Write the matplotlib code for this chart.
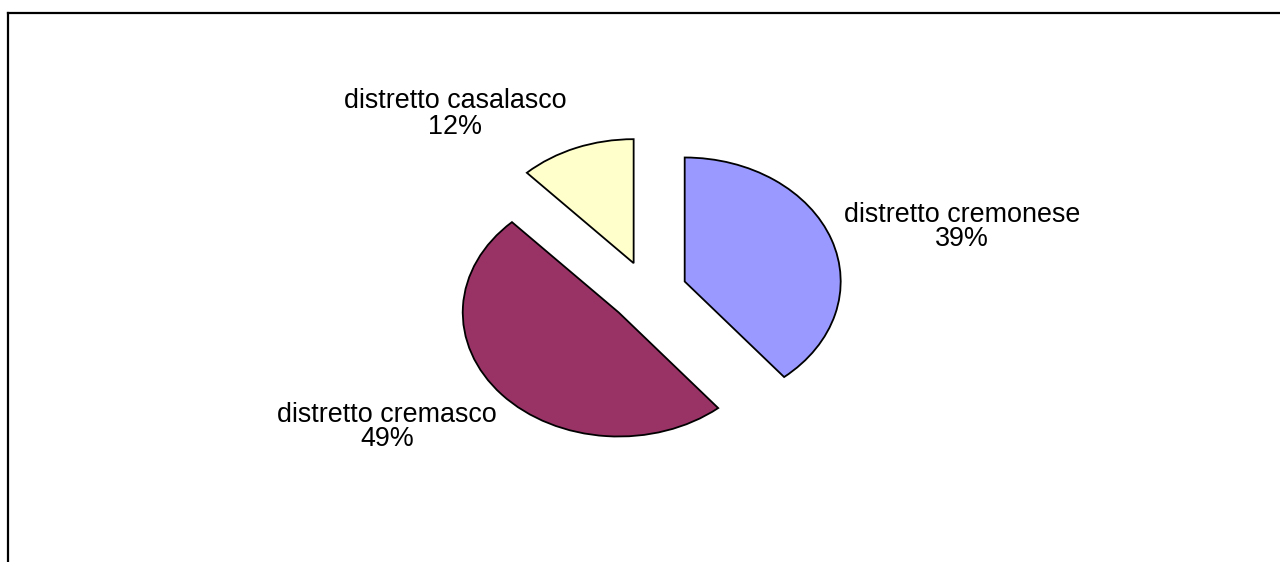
import numpy as np
import matplotlib.pyplot as plt
from matplotlib.lines import Line2D

# data
labels = ['distretto cremonese', 'distretto cremasco', 'distretto casalasco']
shares = [39, 49, 12]
colors = ['#9999FF', '#993366', '#FFFFCC']

W, H = 1280, 562
stretch = 1.258          # pie is drawn wider than tall
R = 124                  # radius in px (vertical)
cx, cy = 648, 292        # pie centre, px from top-left

# label block centres, px from top-left
label_pos = [(962, 227), (387, 427), (455, 114)]

fig = plt.figure(figsize=(W / 100, H / 100), dpi=100)
ax = fig.add_axes([0, 0, 1, 1])

ax.pie(shares, colors=colors, startangle=90, counterclock=False,
       radius=R, center=(cx / stretch, H - cy),
       explode=[0.25 * R] * 3,
       wedgeprops=dict(edgecolor='black', linewidth=1.3),
       frame=True)
ax.set_aspect('auto')
ax.set_xlim(0, W / stretch)
ax.set_ylim(0, H)
ax.axis('off')

for lab, val, (lx, ly) in zip(labels, shares, label_pos):
    ax.text(lx / stretch, H - ly, f'{lab}\n{val}%', ha='center', va='center',
            fontsize=19.4, family='Liberation Sans', linespacing=0.95)

# chart frame (top and left edges only are visible)
fig.add_artist(Line2D([8 / W, 1], [1 - 12.5 / H, 1 - 12.5 / H],
                      transform=fig.transFigure, color='black', lw=1.6))
fig.add_artist(Line2D([8 / W, 8 / W], [0, 1 - 12.5 / H],
                      transform=fig.transFigure, color='black', lw=1.6))

fig.savefig('out.png', dpi=100, facecolor='white')
